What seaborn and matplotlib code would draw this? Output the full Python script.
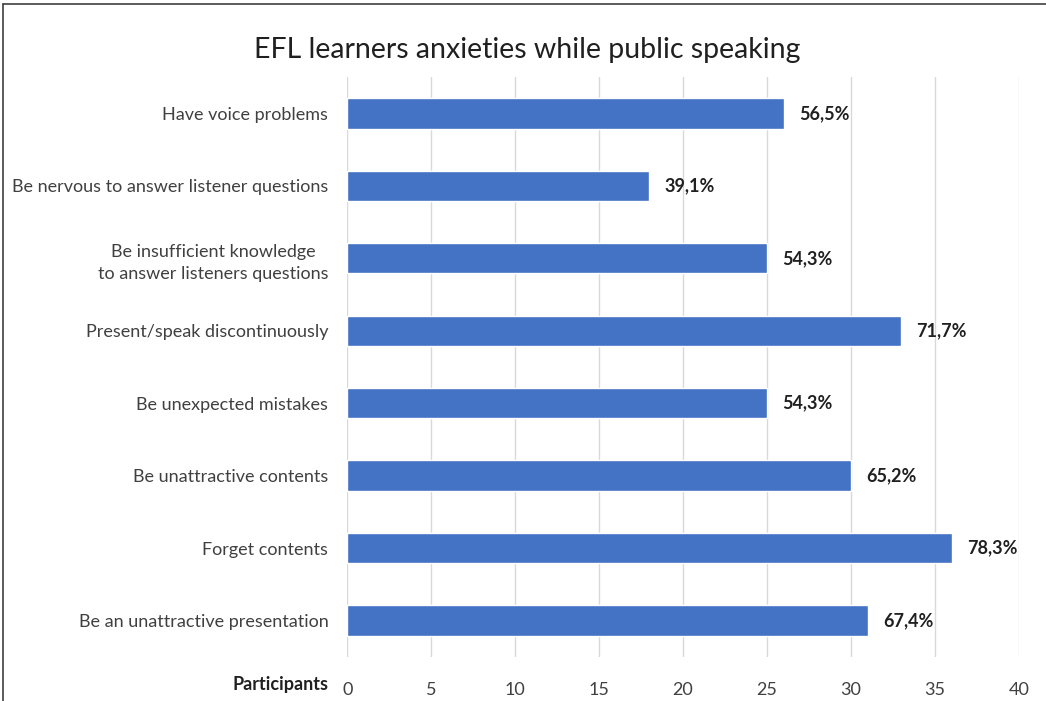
import matplotlib
matplotlib.use("Agg")
import matplotlib.pyplot as plt
import seaborn as sns
import pandas as pd
from matplotlib.lines import Line2D
from matplotlib.transforms import ScaledTranslation

# ── Data ──────────────────────────────────────────────────────────────────────
categories = [
    "Have voice problems",
    "Be nervous to answer listener questions",
    "Be insufficient knowledge\nto answer listeners questions",
    "Present/speak discontinuously",
    "Be unexpected mistakes",
    "Be unattractive contents",
    "Forget contents",
    "Be an unattractive presentation",
]
participants = [26, 18, 25, 33, 25, 30, 36, 31]
pct_labels = ["56,5%", "39,1%", "54,3%", "71,7%", "54,3%", "65,2%", "78,3%", "67,4%"]
x_ticks = [0, 5, 10, 15, 20, 25, 30, 35, 40]

BAR = "#4472C4"
TXT = "#404040"

sns.set_theme(style="white")
plt.rcParams["font.family"] = ["Lato", "DejaVu Sans"]

df = pd.DataFrame({"cat": categories, "n": participants})

fig = plt.figure(figsize=(10.46, 7.01), dpi=100)
ax = fig.add_axes([0.332, 0.063, 0.642, 0.827])

sns.barplot(data=df, x="n", y="cat", color=BAR, width=0.42, ax=ax, zorder=3,
            saturation=1)

ax.set_xlim(0, 40)
ax.set_ylim(len(categories) - 0.5, -0.5)
ax.set_xticks(x_ticks)
ax.set_xticklabels([str(t) for t in x_ticks], fontsize=13, color=TXT)
ax.grid(axis="x", color="#d9d9d9", linewidth=1, zorder=0)
ax.grid(axis="y", visible=False)
for s in ax.spines.values():
    s.set_visible(False)
ax.tick_params(axis="x", length=0, pad=18)
ax.tick_params(axis="y", length=0, pad=18)
for lab in ax.get_yticklabels():
    lab.set_fontsize(13)
    lab.set_color(TXT)
    lab.set_horizontalalignment("center")
    lab.set_multialignment("center")
    lab.set_linespacing(1.45)
ax.set_ylabel("")
ax.set_xlabel("")

# shift centered y labels so their right edge sits near the axis
fig.canvas.draw()
renderer = fig.canvas.get_renderer()
for lab in ax.get_yticklabels():
    half = lab.get_window_extent(renderer).width / 2
    lab.set_transform(lab.get_transform() + ScaledTranslation(-(half - 6) / 100, 0, fig.dpi_scale_trans))

for i, (v, t) in enumerate(zip(participants, pct_labels)):
    ax.text(v + 0.9, i, t, va="center", ha="left", fontsize=13,
            fontweight="bold", color="#202020")

fig.text(0.314, 0.023, "Participants", ha="right", va="center",
         fontsize=13, fontweight="bold", color="#202020")

fig.suptitle("EFL learners anxieties while public speaking", x=0.504, y=0.947,
             fontsize=20.5, color="#202020")

# chart border (top & left visible)
fig.add_artist(Line2D([0.003, 1.0], [0.995, 0.995], color="#404040", linewidth=1.2))
fig.add_artist(Line2D([0.003, 0.003], [0.0, 0.995], color="#404040", linewidth=1.2))

fig.savefig("out.png", dpi=100)
